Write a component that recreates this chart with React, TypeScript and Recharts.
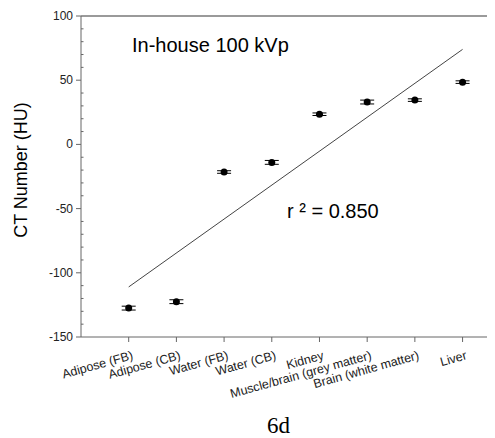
import { ScatterChart, Scatter, XAxis, YAxis, ErrorBar, ReferenceLine } from "recharts";

const categories = [
  "Adipose (FB)",
  "Adipose (CB)",
  "Water (FB)",
  "Water (CB)",
  "Kidney",
  "Muscle/brain (grey matter)",
  "Brain (white matter)",
  "Liver",
];
const ctValues = [-127.5, -122.5, -21.5, -14, 23.5, 33, 34.5, 48.5];
const ctErrors = [1.5, 1.5, 1, 1.5, 1, 1.5, 1, 1];
// regression line endpoints as drawn in the figure
const fitX = [1, 8];
const fitY = [-111, 74];
const yTicks = [-150, -140, -130, -120, -110, -100, -90, -80, -70, -60, -50, -40, -30, -20, -10, 0, 10, 20, 30, 40, 50, 60, 70, 80, 90, 100];

const points = categories.map((name, i) => ({ x: i + 1, y: ctValues[i], err: ctErrors[i], name }));
const fitLine = fitX.map((x, i) => ({ x, y: fitY[i] }));

const font = "'Liberation Sans', Arial, sans-serif";

function YTick(props: any) {
  const { x, y, payload } = props;
  const major = payload.value % 50 === 0;
  if (!major) {
    return <line x1={x} x2={x + 2.5} y1={y} y2={y} stroke="#666" />;
  }
  return (
    <g>
      <line x1={x - 5} x2={x} y1={y} y2={y} stroke="#666" />
      <text x={x - 8} y={y} dy={4} textAnchor="end" fontSize={12} fill="#222" fontFamily={font}>
        {payload.value}
      </text>
    </g>
  );
}

function XTick(props: any) {
  const { x, y, payload } = props;
  const label = categories[payload.value - 1] ?? "";
  return (
    <text
      transform={`translate(${x + 5}, ${y + 15}) rotate(-15.5)`}
      textAnchor="end"
      fontSize={12.5}
      fill="#222"
      fontFamily={font}
    >
      {label}
    </text>
  );
}

const Dot = (props: any) => <circle cx={props.cx} cy={props.cy} r={3.5} fill="#000" />;

export default function App() {
  return (
    <div style={{ position: "relative", width: 487, height: 430 }}>
      <ScatterChart width={487} height={430} margin={{ top: 8, right: 0, bottom: 41, left: 0 }}>
        <XAxis
          type="number"
          dataKey="x"
          domain={[0, 8.68]}
          allowDataOverflow
          ticks={[1, 2, 3, 4, 5, 6, 7, 8]}
          interval={0}
          height={60}
          stroke="#666"
          tickSize={5}
          tickMargin={2}
          tick={<XTick />}
        />
        <YAxis
          type="number"
          dataKey="y"
          domain={[-150, 100]}
          ticks={yTicks}
          interval={0}
          width={73}
          stroke="#666"
          tickLine={false}
          tickSize={0}
          tickMargin={0}
          tick={<YTick />}
        />
        <ReferenceLine y={100} stroke="#9a9a9a" strokeWidth={2} />
        <Scatter
          data={fitLine}
          line={{ stroke: "#444", strokeWidth: 1 }}
          shape={() => <g />}
          isAnimationActive={false}
        />
        <Scatter data={points} shape={<Dot />} isAnimationActive={false}>
          <ErrorBar dataKey="err" direction="y" width={7} stroke="#000" strokeWidth={1} />
        </Scatter>
      </ScatterChart>
      <svg width={487} height={430} style={{ position: "absolute", left: 0, top: 0, pointerEvents: "none" }}>
        <text
          transform="translate(13, 162) rotate(-90)"
          textAnchor="middle"
          dominantBaseline="central"
          fontSize={18}
          fill="#000"
          fontFamily={font}
        >
          CT Number (HU)
        </text>
        <text x={124} y={44} fontSize={20} fill="#000" fontFamily={font}>
          In-house 100 kVp
        </text>
        <text x={279} y={210} fontSize={20} fill="#000" fontFamily={font}>
          r ² = 0.850
        </text>
        <text x={259} y={425} fontSize={23} fill="#000" fontFamily="'Liberation Serif', 'Times New Roman', serif">
          6d
        </text>
      </svg>
    </div>
  );
}
